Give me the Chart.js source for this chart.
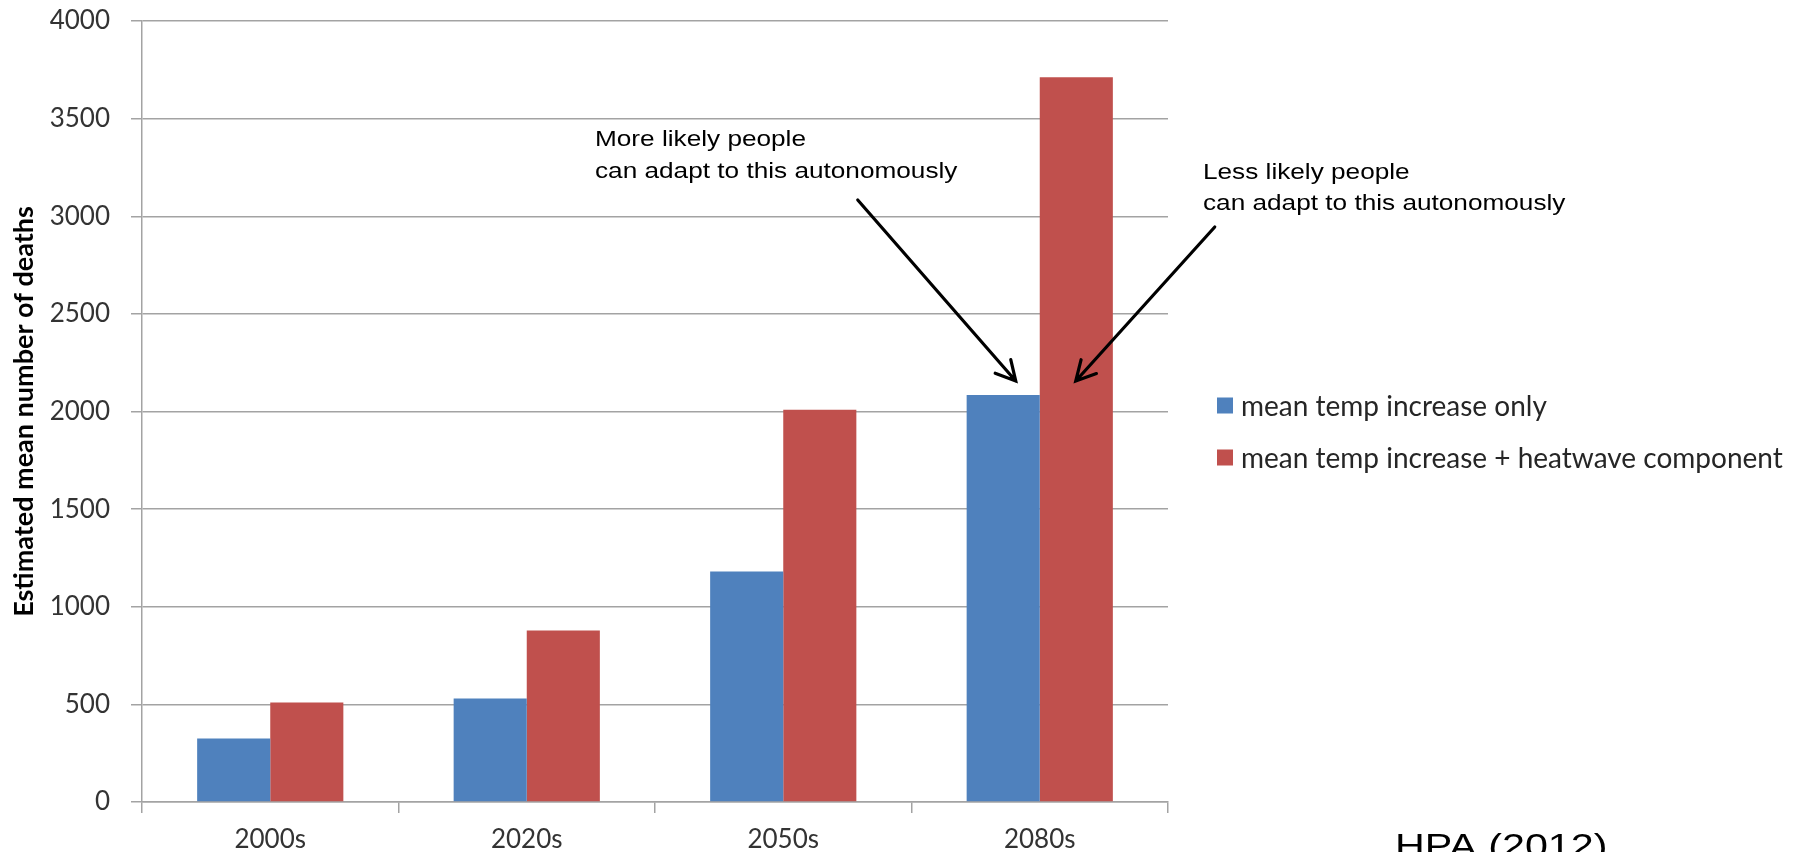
<!DOCTYPE html>
<html>
<head>
<meta charset="utf-8">
<title>Estimated mean number of deaths</title>
<script src="https://cdn.jsdelivr.net/npm/chart.js@4.4.1/dist/chart.umd.min.js"></script>
<style>
  html, body { margin: 0; padding: 0; background: #ffffff; }
  canvas { display: block; }
</style>
</head>
<body>
<canvas id="chart" width="1810" height="852"></canvas>
<script>
// ---- data ----
const decades = ['2000s', '2020s', '2050s', '2080s'];
const meanTempOnly = [325, 530, 1180, 2085];
const meanTempPlusHeatwave = [510, 878, 2009, 3712];
const seriesNames = ['mean temp increase only', 'mean temp increase + heatwave component'];
const yTickValues = [0, 500, 1000, 1500, 2000, 2500, 3000, 3500, 4000];
const yAxisTitle = 'Estimated mean number of deaths';
const noteLeft = ['More likely people', 'can adapt to this autonomously'];
const noteRight = ['Less likely people', 'can adapt to this autonomously'];
const sourceText = 'HPA (2012)';

// ---- styling ----
const BLUE = '#4f81bd';
const RED = '#c0504d';
const GRID = '#a3a3a3';
const TICK_COLOR = '#333333';
const TICK_FONT = { family: 'Lato', size: 26 };

// Legend drawn at the right of the plot, from the dataset labels and colours
const sideLegend = {
  id: 'sideLegend',
  afterDraw(chart) {
    const ctx = chart.ctx;
    ctx.save();
    ctx.font = '28px Lato';
    ctx.textBaseline = 'middle';
    ctx.textAlign = 'left';
    chart.data.datasets.forEach((ds, i) => {
      const cy = 405.5 + i * 52;
      ctx.fillStyle = ds.backgroundColor;
      ctx.fillRect(1217, cy - 8, 16, 16);
      ctx.fillStyle = '#262626';
      ctx.fillText(ds.label, 1241, cy + 1);
    });
    ctx.restore();
  }
};

// Callout texts with arrows pointing at the 2080s bars, plus the source line
const callouts = {
  id: 'callouts',
  afterDraw(chart) {
    const ctx = chart.ctx;
    const xs = chart.scales.x;
    const ys = chart.scales.y;
    const c80 = xs.getPixelForValue(3);
    const tipY = ys.getPixelForValue(2156);

    const stretchText = (lines, x, y, size, sx, gap) => {
      ctx.save();
      ctx.font = size + 'px "Liberation Sans", Arial, sans-serif';
      ctx.fillStyle = '#000000';
      ctx.textBaseline = 'alphabetic';
      ctx.textAlign = 'left';
      lines.forEach((t, i) => {
        ctx.save();
        ctx.translate(x, y + i * gap);
        ctx.scale(sx, 1);
        ctx.fillText(t, 0, 0);
        ctx.restore();
      });
      ctx.restore();
    };

    const arrow = (x0, y0, x1, y1) => {
      const ang = Math.atan2(y0 - y1, x0 - x1);
      const head = 22, spread = 28 * Math.PI / 180;
      ctx.save();
      ctx.strokeStyle = '#000000';
      ctx.lineWidth = 3.2;
      ctx.lineCap = 'round';
      ctx.beginPath();
      ctx.moveTo(x0, y0);
      ctx.lineTo(x1, y1);
      ctx.moveTo(x1 + head * Math.cos(ang + spread), y1 + head * Math.sin(ang + spread));
      ctx.lineTo(x1, y1);
      ctx.lineTo(x1 + head * Math.cos(ang - spread), y1 + head * Math.sin(ang - spread));
      ctx.stroke();
      ctx.restore();
    };

    stretchText(noteLeft, 595, 146, 22, 1.19, 31.5);
    stretchText(noteRight, 1203, 178.5, 22, 1.19, 31.5);
    arrow(c80 - 182, ys.getPixelForValue(3083), c80 - 24, tipY);
    arrow(c80 + 175, ys.getPixelForValue(2945), c80 + 36, tipY);

    stretchText([sourceText], 1395, 857, 33, 1.25, 0);
  }
};

new Chart(document.getElementById('chart'), {
  type: 'bar',
  data: {
    labels: decades,
    datasets: [
      { label: seriesNames[0], data: meanTempOnly, backgroundColor: BLUE },
      { label: seriesNames[1], data: meanTempPlusHeatwave, backgroundColor: RED }
    ]
  },
  options: {
    responsive: false,
    animation: false,
    devicePixelRatio: 1,
    layout: { padding: { top: 21, right: 642, left: 0, bottom: 0 } },
    datasets: { bar: { categoryPercentage: 0.57, barPercentage: 1.0 } },
    plugins: {
      legend: { display: false },
      tooltip: { enabled: false }
    },
    scales: {
      x: {
        grid: { offset: true, drawOnChartArea: false, drawTicks: true, tickLength: 11, color: GRID, lineWidth: 1.5 },
        border: { display: true, color: GRID, width: 1.5 },
        ticks: { font: TICK_FONT, color: TICK_COLOR, padding: 11, maxRotation: 0 },
        afterFit(scale) { scale.height = 50; }
      },
      y: {
        min: 0,
        max: 4000,
        afterBuildTicks(scale) { scale.ticks = yTickValues.map(v => ({ value: v })); },
        ticks: { font: TICK_FONT, color: TICK_COLOR, padding: 21, callback: v => String(v) },
        grid: { color: GRID, lineWidth: 1.5, tickLength: 11 },
        border: { display: true, color: GRID, width: 1.5 },
        title: {
          display: true,
          text: yAxisTitle,
          color: '#000000',
          font: { family: 'Lato', size: 27, weight: 'bold' },
          padding: { top: 8, bottom: 0 }
        },
        afterFit(scale) {
          scale.width = 142;
          scale.paddingTop = 0;
          scale.paddingBottom = 0;
        }
      }
    }
  },
  plugins: [sideLegend, callouts]
});
</script>
</body>
</html>
